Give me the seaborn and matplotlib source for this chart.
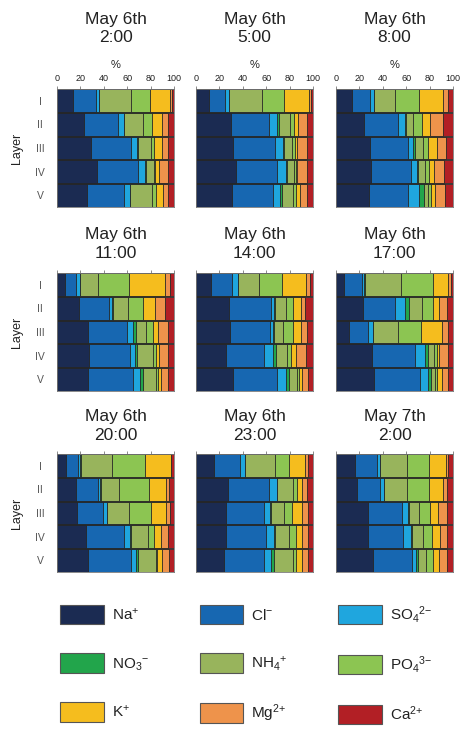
"""
Ion composition of each layer at nine sampling times, drawn as
horizontal stacked bars (one panel per time) with a shared legend.

Output:
    out.png
"""

import numpy as np
import seaborn as sns
import matplotlib.pyplot as plt
from matplotlib.patches import Patch


# ---------------------------------------------------------------------
# Data (cumulative % at the right end of each ion segment, Na ... Mg;
# Ca always closes the bar at 100)
# ---------------------------------------------------------------------

LAYERS = ["I", "II", "III", "IV", "V"]

IONS = ["Na", "NO3", "K", "Cl", "NH4", "Mg", "SO4", "PO4", "Ca"]
STACK_ORDER = ["Na", "Cl", "SO4", "NO3", "NH4", "PO4", "K", "Mg", "Ca"]

ION_LABELS = {
    "Na": r"Na$^{+}$",
    "Cl": r"Cl$^{-}$",
    "SO4": r"SO$_{4}$$^{2\!-}$",
    "NO3": r"NO$_{3}$$^{-}$",
    "NH4": r"NH$_{4}$$^{+}$",
    "PO4": r"PO$_{4}$$^{3\!-}$",
    "K": r"K$^{+}$",
    "Mg": r"Mg$^{2\!+}$",
    "Ca": r"Ca$^{2\!+}$",
}

ION_COLORS = {
    "Na": "#1b2b52",
    "Cl": "#1767b1",
    "SO4": "#1fa6de",
    "NO3": "#22a54b",
    "NH4": "#98b45c",
    "PO4": "#8cc552",
    "K": "#f5bd1e",
    "Mg": "#ee934b",
    "Ca": "#b21f25",
}

DATES = ["May 6th", "May 6th", "May 6th",
         "May 6th", "May 6th", "May 6th",
         "May 6th", "May 6th", "May 7th"]
TIMES = ["2:00", "5:00", "8:00",
         "11:00", "14:00", "17:00",
         "20:00", "23:00", "2:00"]

may6_0200 = [
    [13.7, 33.3, 36.0, 36.2, 63.0, 79.5, 97.0, 98.5],
    [22.8, 52.0, 57.0, 57.5, 73.5, 81.0, 89.5, 95.0],
    [29.0, 63.5, 68.4, 69.0, 80.3, 83.0, 89.5, 95.0],
    [34.0, 69.0, 75.0, 76.0, 82.6, 83.5, 87.0, 95.0],
    [26.0, 57.5, 62.0, 62.7, 81.0, 85.0, 91.0, 95.0],
]
may6_0500 = [
    [10.7, 24.6, 28.0, 28.2, 56.0, 75.4, 96.6, 98.0],
    [30.0, 62.7, 69.0, 70.6, 80.0, 84.0, 87.5, 95.0],
    [32.0, 67.5, 74.0, 75.4, 82.0, 84.5, 86.7, 95.0],
    [34.0, 69.0, 77.0, 77.7, 84.0, 85.3, 86.7, 95.0],
    [31.0, 66.0, 71.8, 73.4, 83.0, 85.3, 88.7, 95.0],
]
may6_0800 = [
    [13.4, 29.0, 32.5, 32.7, 50.4, 71.2, 91.7, 96.0],
    [24.2, 53.3, 59.3, 59.8, 66.0, 73.5, 80.3, 91.7],
    [29.0, 61.3, 66.0, 67.5, 74.0, 79.0, 86.6, 93.7],
    [30.2, 64.0, 69.5, 70.4, 76.0, 79.8, 83.8, 92.3],
    [28.5, 61.3, 71.2, 75.2, 79.0, 81.0, 84.3, 93.0],
]
may6_1100 = [
    [6.8, 16.2, 19.7, 19.9, 34.8, 61.8, 92.3, 96.6],
    [18.8, 44.4, 46.7, 48.0, 61.0, 73.8, 83.8, 92.3],
    [26.8, 59.5, 65.2, 67.2, 75.8, 82.3, 86.6, 95.0],
    [27.6, 62.4, 66.7, 68.7, 81.8, 85.0, 87.0, 95.0],
    [26.8, 65.2, 71.0, 73.2, 85.0, 86.6, 88.6, 95.0],
]
may6_1400 = [
    [12.7, 31.0, 35.9, 36.1, 54.2, 73.2, 94.0, 97.2],
    [28.2, 64.0, 67.0, 67.8, 76.8, 82.5, 89.5, 93.0],
    [28.8, 63.3, 66.0, 67.0, 74.6, 82.5, 89.5, 95.0],
    [26.0, 58.5, 65.5, 68.4, 77.4, 81.0, 85.3, 94.4],
    [31.6, 69.2, 76.8, 79.7, 86.7, 88.0, 91.0, 96.0],
]
may6_1700 = [
    [7.1, 22.0, 24.2, 24.4, 55.3, 82.6, 96.0, 98.0],
    [22.8, 50.4, 59.0, 62.7, 73.2, 83.2, 88.3, 94.6],
    [11.1, 27.6, 31.3, 31.5, 53.3, 72.6, 90.3, 96.0],
    [30.5, 67.5, 76.0, 79.0, 83.8, 86.0, 88.3, 95.4],
    [32.5, 71.8, 79.0, 81.0, 84.6, 86.6, 90.3, 96.0],
]
may6_2000 = [
    [7.7, 17.7, 20.0, 20.2, 47.0, 75.0, 97.4, 97.8],
    [16.2, 34.8, 37.0, 37.2, 53.3, 79.0, 93.0, 95.7],
    [17.0, 39.0, 42.7, 42.9, 61.3, 80.0, 93.0, 97.0],
    [24.8, 57.0, 62.0, 63.2, 77.5, 83.0, 89.0, 95.0],
    [26.8, 63.2, 67.5, 69.0, 85.0, 85.5, 89.5, 95.5],
]
may6_2300 = [
    [15.5, 38.0, 42.0, 42.2, 67.8, 79.7, 93.0, 96.0],
    [27.4, 62.7, 69.0, 69.2, 83.0, 86.7, 91.0, 95.2],
    [25.4, 58.0, 63.3, 64.0, 75.4, 82.0, 91.0, 96.0],
    [26.0, 60.0, 66.4, 67.5, 79.7, 85.3, 91.0, 96.0],
    [23.7, 58.0, 64.0, 67.0, 83.0, 85.3, 91.0, 96.0],
]
may7_0200 = [
    [16.2, 34.8, 37.6, 37.8, 61.0, 79.8, 93.7, 96.0],
    [17.7, 37.6, 41.0, 41.2, 60.4, 79.8, 91.7, 94.6],
    [27.6, 56.7, 61.8, 62.7, 71.2, 80.3, 87.5, 94.6],
    [27.6, 57.5, 64.1, 65.2, 74.6, 81.8, 88.9, 94.6],
    [31.9, 64.7, 68.4, 70.4, 77.0, 82.6, 88.3, 94.6],
]

PANELS = [may6_0200, may6_0500, may6_0800,
          may6_1100, may6_1400, may6_1700,
          may6_2000, may6_2300, may7_0200]


# ---------------------------------------------------------------------
# Layout (pixels of a 461 x 731 figure)
# ---------------------------------------------------------------------

FIG_W, FIG_H = 461, 731
COL_LEFT = [57, 196, 336]
ROW_TOP = [89, 273, 454]
PANEL_W, PANEL_H = 117, 118
TITLE_MID = [28.5, 244, 426]

TEXT_COLOR = "#222222"
EDGE_COLOR = "#262626"


def draw_panel(ax, ends):
    """Stacked bars: draw cumulative bars from the longest to the shortest."""
    ends = np.asarray(ends, dtype=float)
    ends = np.column_stack([ends, np.full(len(ends), 100.0)])

    for k in range(len(STACK_ORDER) - 1, -1, -1):
        ion = STACK_ORDER[k]
        sns.barplot(
            x=ends[:, k],
            y=LAYERS,
            orient="h",
            color=ION_COLORS[ion],
            saturation=1,
            width=0.96,
            edgecolor=EDGE_COLOR,
            linewidth=0.6,
            errorbar=None,
            ax=ax,
        )

    ax.set_xlim(0, 100)
    ax.set_ylim(4.5, -0.5)
    ax.set_xticks([0, 20, 40, 60, 80, 100])
    ax.xaxis.tick_top()
    ax.set_xlabel("")
    ax.set_ylabel("")
    for spine in ax.spines.values():
        spine.set_color("#777777")
        spine.set_linewidth(0.6)


def main():
    sns.set_style("white")
    plt.rcParams["font.family"] = ["Liberation Sans", "DejaVu Sans"]
    plt.rcParams["mathtext.fontset"] = "custom"
    plt.rcParams["mathtext.rm"] = "Liberation Sans"
    plt.rcParams["mathtext.it"] = "Liberation Sans:italic"
    plt.rcParams["mathtext.bf"] = "Liberation Sans:bold"

    fig = plt.figure(figsize=(FIG_W / 100, FIG_H / 100), dpi=100)

    for i, ends in enumerate(PANELS):
        row, col = divmod(i, 3)
        left = COL_LEFT[col] / FIG_W
        bottom = 1 - (ROW_TOP[row] + PANEL_H) / FIG_H
        ax = fig.add_axes([left, bottom, PANEL_W / FIG_W, PANEL_H / FIG_H])
        draw_panel(ax, ends)

        ax.tick_params(axis="x", direction="out", length=2.5, width=0.6,
                       color="#777777", pad=2, labelsize=6.5,
                       labelcolor=TEXT_COLOR, labeltop=(row == 0))
        if row == 0:
            ax.xaxis.set_label_position("top")
            ax.set_xlabel("%", fontsize=8, color=TEXT_COLOR, labelpad=4)

        ax.tick_params(axis="y", length=0, pad=12, labelsize=7.5,
                       labelcolor="#555555", labelleft=(col == 0))
        if col == 0:
            for lab in ax.get_yticklabels():
                lab.set_horizontalalignment("center")
            ax.set_ylabel("Layer", fontsize=9, color=TEXT_COLOR, labelpad=9)

        cx = (COL_LEFT[col] + PANEL_W / 2) / FIG_W
        cy = 1 - TITLE_MID[row] / FIG_H
        fig.text(cx, cy, f"{DATES[i]}\n{TIMES[i]}", ha="center", va="center",
                 fontsize=12.5, color=TEXT_COLOR, linespacing=1.3)

    # legend laid out row-wise (Na, Cl, SO4 / NO3, NH4, PO4 / K, Mg, Ca)
    handles = [
        Patch(facecolor=ION_COLORS[ion], edgecolor="#555555", linewidth=0.8)
        for ion in IONS
    ]
    labels = [ION_LABELS[ion] for ion in IONS]
    fig.legend(
        handles,
        labels,
        ncol=3,
        loc="upper left",
        bbox_to_anchor=(60 / FIG_W, 1 - 604 / FIG_H),
        frameon=False,
        fontsize=11,
        handlelength=2.85,
        handleheight=1.6,
        handletextpad=0.55,
        columnspacing=3.3,
        labelspacing=1.9,
        borderpad=0,
        borderaxespad=0,
        labelcolor=TEXT_COLOR,
    )

    fig.savefig("out.png", dpi=100)
    plt.close(fig)


if __name__ == "__main__":
    main()
